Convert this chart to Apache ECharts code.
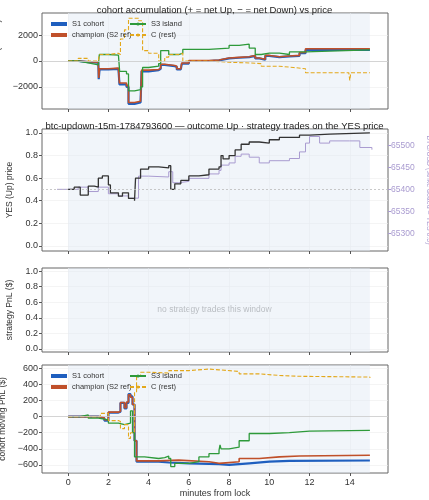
<!DOCTYPE html>
<html><head><meta charset="utf-8">
<script src="https://cdn.jsdelivr.net/npm/echarts@6/dist/echarts.min.js"></script>
<style>html,body{margin:0;padding:0;background:#fff}#main{width:429px;height:500px}</style>
</head><body><div id="main"></div>
<script>
// [minutes from lock, value]
var accS1 = [[0,0],[0.5,-80],[1,-120],[1.5,-150],[1.52,-1400],[1.56,-650],[2,-600],[2.5,-650],[2.55,-1800],[2.9,-2000],[3.0,-3300],[3.3,-3200],[3.6,-3100],[3.65,-800],[4,-700],[4.5,-600],[4.6,-300],[4.8,-400],[5.3,-450],[5.4,-650],[5.6,-600],[5.65,-200],[6,0],[7,50],[7.5,200],[8,250],[8.5,300],[9,400],[9.3,200],[9.5,100],[9.8,400],[10,300],[10.5,350],[11,400],[11.5,600],[11.8,850],[15,850]];
var accChamp = [[0,0],[0.5,-60],[1,-100],[1.5,-120],[1.52,-1300],[1.56,-600],[2,-550],[2.5,-600],[2.55,-1700],[2.9,-1900],[3.0,-3200],[3.3,-3100],[3.6,-3000],[3.65,-700],[4,-650],[4.5,-550],[4.6,-250],[4.8,-350],[5.3,-400],[5.4,-600],[5.6,-550],[5.65,-150],[6,30],[7,80],[7.5,230],[8,280],[8.5,330],[9,430],[9.3,230],[9.5,130],[9.8,430],[10,330],[10.5,380],[11,430],[11.5,650],[11.8,950],[15,950]];
var accS3 = [[0,0],[0.5,-150],[1,-300],[1.5,-350],[1.55,500],[2,450],[2.5,400],[2.56,-800],[2.9,-1000],[3.0,-2300],[3.3,-2200],[3.6,-2000],[3.7,-500],[4,-400],[4.5,-200],[4.6,800],[5,500],[5.5,600],[5.7,900],[7,1000],[8,1200],[8.5,1300],[9,1000],[9.3,500],[9.6,600],[10,600],[10.5,500],[11,700],[11.8,850],[15,850]];
var accC = [[0,0],[0.5,200],[1,0],[1.5,-50],[1.55,500],[2,600],[2.5,500],[2.6,1700],[2.8,2400],[3.0,3300],[3.5,3100],[3.7,800],[4,600],[4.5,0],[4.8,300],[5,500],[5.5,600],[5.7,0],[7,-100],[8,-150],[9,-200],[9.6,-400],[10.5,-500],[11.2,-600],[11.8,-900],[13.95,-900],[14,-1500],[14.05,-900],[15,-900]];

var yesPrice = [[0,0.5],[0.3,0.52],[0.6,0.45],[1.0,0.53],[1.3,0.52],[1.5,0.6],[1.7,0.62],[2.0,0.54],[2.1,0.47],[2.5,0.44],[2.7,0.47],[3.0,0.42],[3.3,0.4],[3.35,0.6],[3.6,0.68],[4.0,0.7],[4.5,0.69],[5.0,0.71],[5.1,0.5],[5.3,0.55],[5.6,0.58],[6.0,0.62],[6.5,0.63],[7,0.68],[7.5,0.7],[7.6,0.8],[7.7,0.77],[8,0.8],[8.3,0.85],[8.6,0.9],[9,0.92],[9.5,0.91],[10,0.94],[10.5,0.96],[11.5,0.98],[12,0.99],[13,1.0],[15,1.0]];
var btcUsd = [[-0.55,65400],[0,65400],[0.5,65405],[1,65395],[1.5,65405],[2,65390],[2.5,65385],[3,65380],[3.5,65430],[4,65428],[5,65440],[5.2,65415],[5.5,65418],[6,65425],[7,65435],[7.5,65443],[7.6,65455],[8,65460],[8.3,65475],[8.6,65480],[9,65473],[9.5,65460],[10,65465],[11,65470],[11.5,65485],[11.8,65505],[12,65520],[12.5,65505],[13,65510],[14,65510],[14.5,65495],[15.1,65490]];

var pnlS1 = [[0,0],[1,0],[1.5,-20],[1.8,-50],[2.0,50],[2.5,60],[2.6,170],[2.8,100],[2.9,170],[3.0,280],[3.1,250],[3.2,150],[3.3,-300],[3.4,-560],[4,-560],[4.5,-570],[5,-580],[6,-590],[7.5,-600],[8,-580],[9,-560],[10,-550],[11,-545],[15,-540]];
var pnlChamp = [[0,0],[1,0],[1.5,-15],[1.8,-40],[2.0,55],[2.5,65],[2.6,175],[2.8,110],[2.9,180],[3.0,270],[3.1,240],[3.2,150],[3.3,-300],[3.4,-550],[4,-550],[4.5,-540],[5.5,-560],[7,-580],[7.5,-560],[8.5,-520],[9.5,-500],[10.5,-490],[11.5,-480],[15,-480]];
var pnlS3 = [[0,0],[0.6,20],[1,-20],[1.5,-40],[2,-80],[2.5,-100],[2.8,-80],[3.1,70],[3.2,-200],[3.3,-500],[3.8,-520],[4.5,-510],[4.8,-490],[5,-520],[5.1,-620],[5.3,-580],[6,-560],[6.5,-500],[7,-460],[7.5,-420],[7.55,-350],[7.6,-400],[8,-380],[8.5,-300],[9,-210],[9.5,-210],[10,-200],[11,-180],[12,-170],[15,-170]];
var pnlC = [[0,0],[1,0],[1.6,40],[2,-50],[2.5,-60],[2.6,-150],[2.8,-100],[3.0,-270],[3.1,-200],[3.3,300],[3.4,500],[3.6,550],[4,540],[5,570],[6,590],[7,580],[7.5,560],[8.5,530],[9.5,510],[10.5,500],[11.5,490],[15,480]];

var xTicks = [0,2,4,6,8,10,12,14];
var C_S1 = '#1f5fbf', C_CH = '#c0502a', C_S3 = '#2e9a3a', C_C = '#e3a81b', C_BTC = '#a99bd0';

var chart = echarts.init(document.getElementById('main'));
function g(top, h){
  return {left:42, right:41, top:top, height:h, outerBoundsMode:'none', containLabel:false,
    show:true, borderColor:'#666', borderWidth:1, backgroundColor:'transparent'};
}
var grids = [g(13,96), g(129,122), g(268,84), g(365,108)];
var axisLine = {show:false, onZero:false};
var split = {show:true, lineStyle:{color:'#ececec', width:0.6}};
function xAx(i, labels){
  return {type:'value', gridIndex:i, min:-1.3, max:15.9,
    axisLine:axisLine, axisTick:{show:true, customValues:xTicks, length:3, lineStyle:{color:'#555'}},
    axisLabel:{show:labels, customValues:xTicks, fontSize:9, color:'#333', margin:5},
    splitLine:split, name: labels ? 'minutes from lock' : '', nameLocation:'middle', nameGap:16,
    nameTextStyle:{fontSize:9, color:'#333'}};
}
function yAx(i, min, max, ticks, name, fmt){
  return {type:'value', gridIndex:i, min:min, max:max, name:name, nameLocation:'middle', nameGap:28,
    nameTextStyle:{fontSize:8.5, color:'#333'},
    axisLine:axisLine, axisTick:{show:true, customValues:ticks, length:3, lineStyle:{color:'#555'}},
    axisLabel:{customValues:ticks, fontSize:9, color:'#333', margin:4, formatter:fmt},
    splitLine:split};
}
function minus(v){ return String(v).replace('-', '\u2212'); }
function ln(name, data, color, x, y, dashed, w, extra){
  var s = {name:name, type:'line', step:'end', data:data, xAxisIndex:x, yAxisIndex:y, symbol:'none',
    lineStyle:{color:color, width:w, type: dashed ? [4,2] : 'solid'}, itemStyle:{color:color}, z:3};
  for (var k in extra) s[k] = extra[k];
  return s;
}
var shade = {silent:true, itemStyle:{color:'rgba(225,232,245,0.45)'}, data:[[{xAxis:0},{xAxis:15}]]};
var zeroLine = {silent:true, symbol:'none', label:{show:false}, lineStyle:{color:'#ccc', width:0.8, type:'solid'}, data:[{yAxis:0}]};
var legendText = {fontSize:7.5, color:'#333'};

chart.setOption({
  animation:false,
  grid: grids,
  title: [
    {text:'cohort accumulation (+ = net Up, \u2212 = net Down) vs price', left:'center', top:0, textStyle:{fontSize:9.5, fontWeight:'normal', color:'#222'}},
    {text:'btc-updown-15m-1784793600 \u2014 outcome Up \u00b7 strategy trades on the YES price', left:'center', top:116, textStyle:{fontSize:9.5, fontWeight:'normal', color:'#222'}}
  ],
  legend: [
    {data:['S1 cohort','champion (S2 ref)'], orient:'vertical', left:46, top:15, itemWidth:16, itemHeight:4, itemGap:3, textStyle:legendText, icon:'rect'},
    {data:['S3 island','C (rest)'], orient:'vertical', left:124, top:15, itemWidth:16, itemHeight:4, itemGap:3, textStyle:legendText},
    {data:['S1 cohort ','champion (S2 ref) '], orient:'vertical', left:46, top:367, itemWidth:16, itemHeight:4, itemGap:3, textStyle:legendText, icon:'rect'},
    {data:['S3 island ','C (rest) '], orient:'vertical', left:124, top:367, itemWidth:16, itemHeight:4, itemGap:3, textStyle:legendText}
  ],
  xAxis: [xAx(0,false), xAx(1,false), xAx(2,false), xAx(3,true)],
  yAxis: [
    yAx(0, -3700, 3700, [-2000,0,2000], 'acc. net YES (shares)', minus),
    yAx(1, -0.045, 1.035, [0,0.2,0.4,0.6,0.8,1.0], 'YES (Up) price', function(v){return v.toFixed(1);}),
    yAx(2, -0.04, 1.04, [0,0.2,0.4,0.6,0.8,1.0], 'strategy PnL ($)', function(v){return v.toFixed(1);}),
    yAx(3, -700, 640, [-600,-400,-200,0,200,400,600], 'cohort moving PnL ($)', minus),
    {type:'value', gridIndex:1, position:'right', min:65260, max:65537,
      name:'BTC/USD (strike dotted = YES 0.5)', nameLocation:'middle', nameGap:33, nameRotate:-90,
      nameTextStyle:{fontSize:7, color:C_BTC},
      axisLine:{show:false, onZero:false}, axisTick:{show:true, customValues:[65300,65350,65400,65450,65500], length:3, lineStyle:{color:C_BTC}},
      axisLabel:{customValues:[65300,65350,65400,65450,65500], fontSize:8.5, color:C_BTC, margin:3, formatter:function(v){return String(v);}},
      splitLine:{show:false}}
  ],
  graphic: [{type:'text', left:'center', top:305, style:{text:'no strategy trades this window', fontSize:8.5, fill:'#999'}}],
  series: [
    ln('S1 cohort', accS1, C_S1, 0, 0, false, 2.2, {markArea:shade, markLine:zeroLine}),
    ln('champion (S2 ref)', accChamp, C_CH, 0, 0, false, 1.6),
    ln('S3 island', accS3, C_S3, 0, 0, false, 1.3),
    ln('C (rest)', accC, C_C, 0, 0, true, 1.1),
    ln('BTC', btcUsd, C_BTC, 1, 4, false, 1, {z:2, markLine:{silent:true, symbol:'none', label:{show:false}, lineStyle:{color:'#bbb', width:0.8, type:[2,2]}, data:[{yAxis:65400}]}}),
    ln('YES', yesPrice, '#333', 1, 1, false, 1.3, {markArea:shade}),
    {type:'line', data:[], xAxisIndex:2, yAxisIndex:2, markArea:shade},
    ln('S1 cohort ', pnlS1, C_S1, 3, 3, false, 2.2, {markArea:shade, markLine:zeroLine}),
    ln('champion (S2 ref) ', pnlChamp, C_CH, 3, 3, false, 1.6),
    ln('S3 island ', pnlS3, C_S3, 3, 3, false, 1.3),
    ln('C (rest) ', pnlC, C_C, 3, 3, true, 1.1)
  ]
});
</script></body></html>
